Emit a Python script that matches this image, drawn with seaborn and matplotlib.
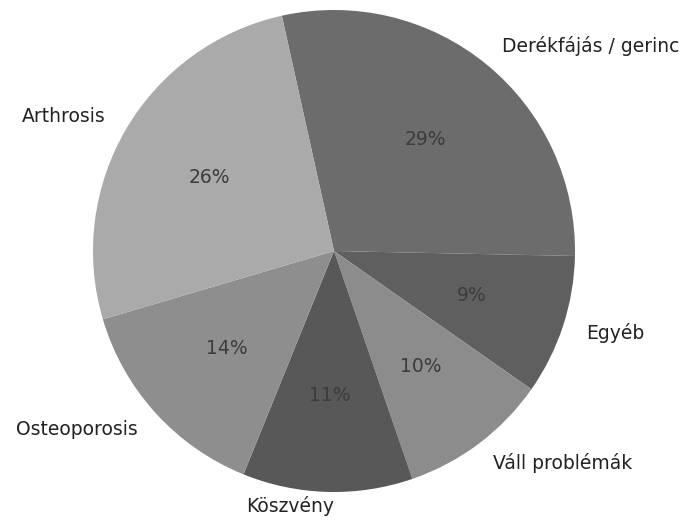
import matplotlib
matplotlib.use("Agg")
import matplotlib.pyplot as plt
import seaborn as sns

# slices clockwise from the top-left
categories = ["Derékfájás / gerinc", "Egyéb", "Váll problémák", "Köszvény", "Osteoporosis", "Arthrosis"]
shares = [28.8, 9.4, 10.0, 11.4, 14.3, 26.1]

sns.set_theme(style="white")
plt.rcParams['font.family'] = ['DejaVu Sans']

greys = ["#6c6c6c", "#5f5f5f", "#8c8c8c", "#585858", "#8e8e8e", "#aaaaaa"]

fig = plt.figure(figsize=(6.85, 5.21), dpi=100)
ax = fig.add_axes([0, 0, 1, 1])
wedges, texts, autotexts = ax.pie(
    shares, labels=categories, colors=greys, autopct='%1.0f%%',
    startangle=102.5, counterclock=False, labeldistance=1.1, pctdistance=0.6,
    wedgeprops=dict(linewidth=0), textprops=dict(fontsize=13.5, color="#222222"))
for t in autotexts:
    t.set_color("#3c3c3c")

# bottom label sits a bit tighter under the pie
kx, ky = texts[3].get_position()
texts[3].set_position((kx + 0.03, ky + 0.04))

ax.set_xlim(-334 / 241, (685 - 334) / 241)
ax.set_ylim(-270 / 241, 251 / 241)
ax.axis('off')
fig.savefig("out.png", dpi=100)
